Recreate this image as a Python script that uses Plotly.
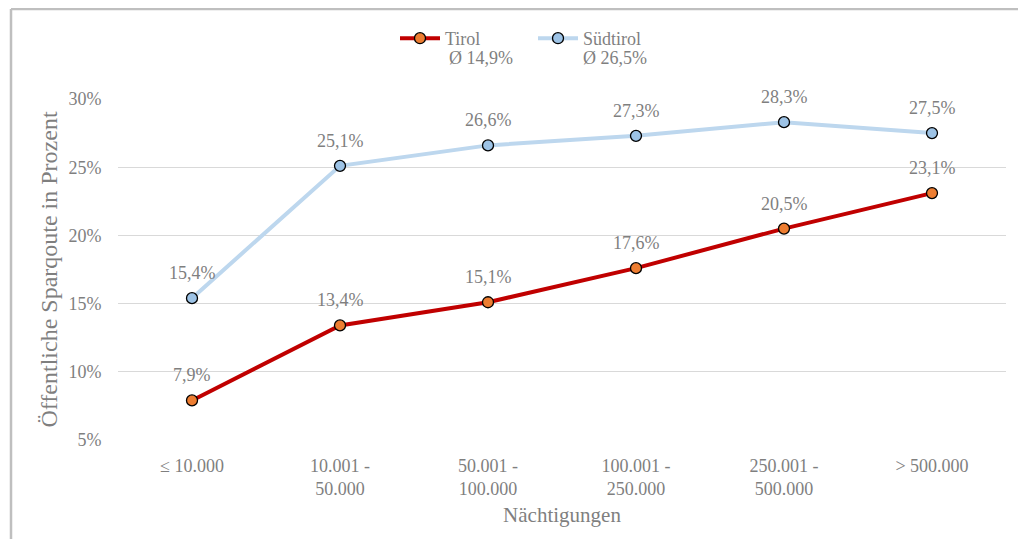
import plotly.graph_objects as go

categories = ["≤ 10.000", "10.001 -<br>50.000", "50.001 -<br>100.000", "100.001 -<br>250.000", "250.001 -<br>500.000", "> 500.000"]
tirol = [7.9, 13.4, 15.1, 17.6, 20.5, 23.1]
suedtirol = [15.4, 25.1, 26.6, 27.3, 28.3, 27.5]
series_names = ["Tirol", "Südtirol"]
series_avg = [14.9, 26.5]
y_ticks = [5, 10, 15, 20, 25, 30]

FONT = "Liberation Serif, Times New Roman, serif"
GRAY = "#7f7f7f"

def fmt(v):
    return f"{v:.1f}".replace(".", ",") + "%"

fig = go.Figure()
styles = [
    dict(line="#C00000", marker="#ED7D31"),
    dict(line="#BDD7EE", marker="#9DC3E6"),
]
annotations = []
for name, vals, st in zip(series_names, [tirol, suedtirol], styles):
    fig.add_trace(go.Scatter(
        x=categories, y=vals, mode="lines+markers", name=name,
        line=dict(color=st["line"], width=4),
        marker=dict(color=st["marker"], size=11, line=dict(color="black", width=1.3)),
        cliponaxis=False,
    ))
    for c, v in zip(categories, vals):
        annotations.append(dict(x=c, y=v, xref="x", yref="y", text=fmt(v), showarrow=False,
                                yanchor="middle", yshift=25,
                                font=dict(family=FONT, size=18, color=GRAY)))

W, H = 1010, 531
L, R, T, B = 110, 12, 91, 99
pw, ph = W - L - R, H - T - B

def px_x(x):
    return (x - L) / pw

def px_y(y):
    return 1 + (T - y) / ph

# average labels under legend entries
for avg, xpos in zip(series_avg, [439, 573]):
    annotations.append(dict(x=px_x(xpos), y=px_y(50), xref="paper", yref="paper",
                            xanchor="left", yanchor="middle", showarrow=False,
                            text="Ø " + fmt(avg), font=dict(family=FONT, size=18, color=GRAY)))

fig.update_layout(
    width=W, height=H,
    margin=dict(l=L, r=R, t=T, b=B),
    paper_bgcolor="white", plot_bgcolor="white",
    font=dict(family=FONT, size=18, color=GRAY),
    showlegend=True,
    legend=dict(orientation="h", x=px_x(387), xanchor="left", y=px_y(12), yanchor="top",
                font=dict(family=FONT, size=18, color=GRAY), itemwidth=40,
                entrywidth=83, entrywidthmode="pixels", traceorder="normal"),
    xaxis=dict(
        title=dict(text="Nächtigungen", font=dict(family=FONT, size=21, color=GRAY), standoff=9),
        showgrid=False, showline=False, ticks="outside", ticklen=9, tickcolor="rgba(0,0,0,0)",
        tickfont=dict(family=FONT, size=18, color=GRAY),
        range=[-0.5, 5.5],
    ),
    yaxis=dict(
        title=dict(text="Öffentliche Sparqoute in Prozent", font=dict(family=FONT, size=24, color=GRAY), standoff=4),
        range=[5, 30], tickvals=y_ticks, ticktext=[f"{v}%" for v in y_ticks],
        showgrid=True, gridcolor="#d9d9d9", gridwidth=1, zeroline=False, showline=False,
        ticks="outside", ticklen=12, tickcolor="rgba(0,0,0,0)",
        tickfont=dict(family=FONT, size=18, color=GRAY),
    ),
    annotations=annotations,
    shapes=[
        dict(type="line", xref="paper", yref="paper",
             x0=px_x(3), x1=px_x(3), y0=px_y(1), y1=px_y(H + 20),
             line=dict(color="#bfbfbf", width=2.5)),
        dict(type="line", xref="paper", yref="paper",
             x0=px_x(3), x1=px_x(W + 20), y0=px_y(1), y1=px_y(1),
             line=dict(color="#bfbfbf", width=2.5)),
    ],
)

fig.write_html("out.html")
